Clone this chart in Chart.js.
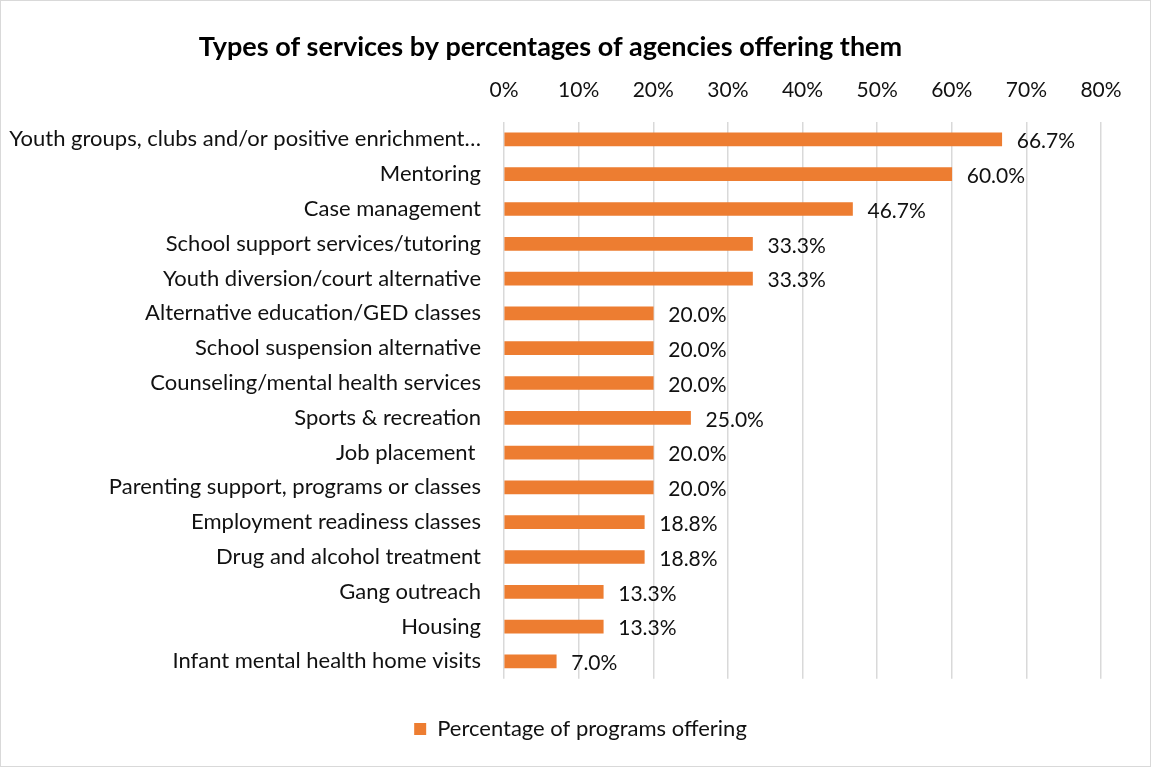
<!DOCTYPE html>
<html>
<head>
<meta charset="utf-8">
<script src="https://cdn.jsdelivr.net/npm/chart.js@4/dist/chart.umd.min.js"></script>
<style>
  html, body { margin: 0; padding: 0; background: #fff; }
  #wrap { width: 1151px; height: 767px; }
</style>
</head>
<body>
<div id="wrap"><canvas id="servicesChart" width="1151" height="767"></canvas></div>
<script>
// services offered, top to bottom
var services = [
  'Youth groups, clubs and/or positive enrichment\u2026',
  'Mentoring',
  'Case management',
  'School support services/tutoring',
  'Youth diversion/court alternative',
  'Alternative education/GED classes',
  'School suspension alternative',
  'Counseling/mental health services',
  'Sports & recreation',
  'Job placement ',
  'Parenting support, programs or classes',
  'Employment readiness classes',
  'Drug and alcohol treatment',
  'Gang outreach',
  'Housing',
  'Infant mental health home visits'
];
var pctOffering = [66.7, 60.0, 46.7, 33.3, 33.3, 20.0, 20.0, 20.0, 25.0, 20.0, 20.0, 18.8, 18.8, 13.3, 13.3, 7.0];
var axisTicks = [0, 10, 20, 30, 40, 50, 60, 70, 80];

var FONT = 'Lato, "Open Sans", sans-serif';
var ORANGE = '#ED7D31';
var TEXT = '#111';

// white background + thin outer border
var frame = {
  id: 'frame',
  beforeDraw: function (chart) {
    var c = chart.ctx;
    c.save();
    c.fillStyle = '#fff';
    c.fillRect(0, 0, chart.width, chart.height);
    c.strokeStyle = '#D9D9D9';
    c.lineWidth = 1;
    c.strokeRect(0.5, 0.5, chart.width - 1, chart.height - 1);
    c.restore();
  }
};

// centre the legend on the whole canvas rather than the padded box
var legendSpan = {
  id: 'legendSpan',
  afterLayout: function (chart) {
    var lg = chart.legend;
    lg.left = 10;
    lg.right = chart.width;
    lg.width = lg.right - lg.left;
  }
};

// value labels at the end of each bar
var valueLabels = {
  id: 'valueLabels',
  afterDatasetsDraw: function (chart) {
    var c = chart.ctx;
    var meta = chart.getDatasetMeta(0);
    c.save();
    c.font = '21px ' + FONT;
    c.fillStyle = TEXT;
    c.textAlign = 'left';
    c.textBaseline = 'middle';
    meta.data.forEach(function (bar, i) {
      c.fillText(pctOffering[i].toFixed(1) + '%', bar.x + 15, bar.y + 2);
    });
    c.restore();
  }
};

var ctx = document.getElementById('servicesChart').getContext('2d');
var chart = new Chart(ctx, {
  type: 'bar',
  data: {
    labels: services,
    datasets: [{
      label: 'Percentage of programs offering',
      data: pctOffering,
      backgroundColor: ORANGE,
      borderWidth: 0,
      barThickness: 13
    }]
  },
  options: {
    indexAxis: 'y',
    responsive: false,
    animation: false,
    layout: { padding: { left: 0, right: 50, top: 18, bottom: 17 } },
    scales: {
      x: {
        position: 'top',
        min: 0,
        max: 80,
        afterBuildTicks: function (scale) {
          scale.ticks = axisTicks.map(function (v) { return { value: v }; });
        },
        afterFit: function (scale) { scale.height = 48.6; },
        ticks: {
          padding: 19,
          color: TEXT,
          font: { family: FONT, size: 21 },
          callback: function (v) { return v + '%'; }
        },
        grid: { color: '#D9D9D9', lineWidth: 1.5, drawTicks: false, tickLength: 0 },
        border: { display: false }
      },
      y: {
        afterFit: function (scale) { scale.width = 504; },
        ticks: {
          padding: 23,
          color: TEXT,
          font: { family: FONT, size: 22 },
          autoSkip: false
        },
        grid: { display: false, drawTicks: false, tickLength: 0 },
        border: { display: false }
      }
    },
    plugins: {
      title: {
        display: true,
        text: 'Types of services by percentages of agencies offering them',
        color: '#000',
        font: { family: FONT, size: 27, weight: 'bold' },
        padding: { top: 13, bottom: 10 }
      },
      legend: {
        position: 'bottom',
        title: { display: true, text: '', font: { size: 1 }, padding: { top: 10, bottom: 0 } },
        labels: {
          color: TEXT,
          font: { family: FONT, size: 22 },
          boxWidth: 12,
          boxHeight: 12,
          padding: 28
        }
      },
      tooltip: { enabled: false }
    }
  },
  plugins: [frame, legendSpan, valueLabels]
});
</script>
</body>
</html>
